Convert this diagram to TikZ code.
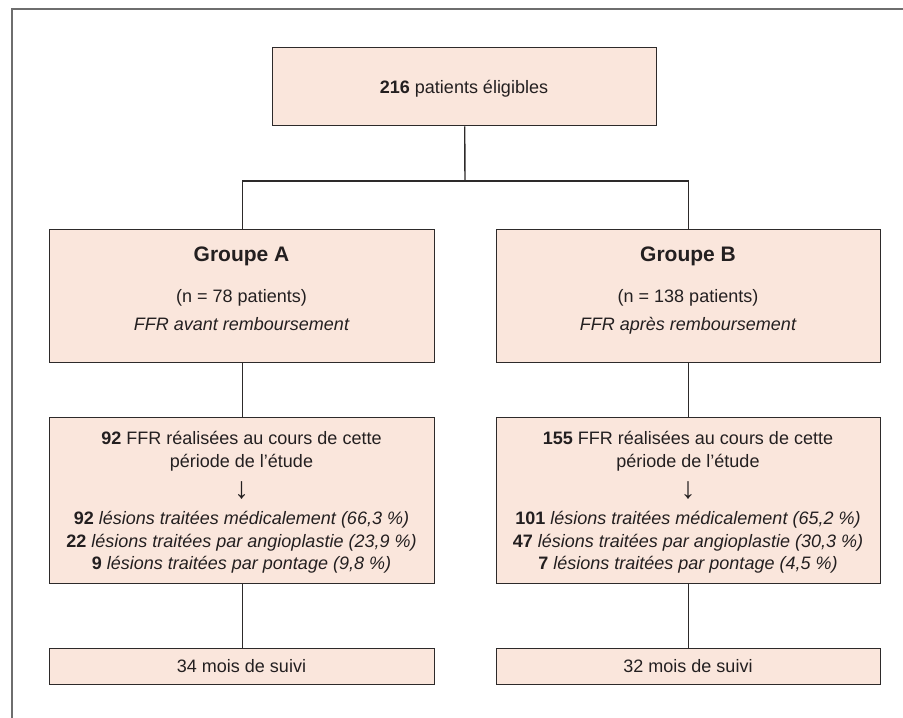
\documentclass[tikz,border=0pt]{standalone}
\usepackage{fontspec}
\setmainfont{Liberation Sans}
\definecolor{boxfill}{RGB}{250,230,220}
\definecolor{edge}{RGB}{45,42,42}
\definecolor{framecol}{RGB}{110,110,110}
\definecolor{ink}{RGB}{35,31,32}
\begin{document}
\begin{tikzpicture}[x=1pt,y=-1pt,
  box/.style={draw=edge, line width=1.4pt, fill=boxfill, inner sep=0pt, anchor=north west},
  txt/.style={inner sep=0pt, anchor=base, text=ink, font=\fontsize{18}{22}\selectfont},
  ttl/.style={inner sep=0pt, anchor=base, text=ink, font=\fontsize{21}{25}\selectfont\bfseries},
  arr/.style={inner sep=0pt, anchor=center, text=ink, font=\fontsize{30}{30}\selectfont},
  link/.style={draw=edge, line width=1.4pt},
  framel/.style={draw=framecol, line width=2pt}]
\useasboundingbox (0,0) rectangle (903,718);
% frame
\coordinate (fTL) at (12,9);
\coordinate (fTR) at (903,9);
\coordinate (fBL) at (12,718);
\draw[framel] (fTR) -- (fTL) -- (fBL);

% boxes
\node[box, minimum width=384pt, minimum height=78pt] (top) at (272,47) {};
\node[box, minimum width=385pt, minimum height=133pt] (grpA) at (49,229) {};
\node[box, minimum width=384pt, minimum height=133pt] (grpB) at (496,229) {};
\node[box, minimum width=385pt, minimum height=166pt] (ffrA) at (49,417) {};
\node[box, minimum width=384pt, minimum height=166pt] (ffrB) at (496,417) {};
\node[box, minimum width=385pt, minimum height=36pt] (suiA) at (49,648) {};
\node[box, minimum width=384pt, minimum height=36pt] (suiB) at (496,648) {};

% texts
\node[txt] (tTop) at (464,93) {\textbf{216} patients éligibles};

\node[ttl] (tA1) at (241.5,261) {Groupe A};
\node[txt] (tA2) at (241.5,302) {(n = 78 patients)};
\node[txt] (tA3) at (241.5,330) {\itshape FFR avant remboursement};

\node[ttl] (tB1) at (688,261) {Groupe B};
\node[txt] (tB2) at (688,302) {(n = 138 patients)};
\node[txt] (tB3) at (688,330) {\itshape FFR après remboursement};

\node[txt] (fA1) at (241.5,444) {\textbf{92} FFR réalisées au cours de cette};
\node[txt] (fA2) at (241.5,467) {période de l’étude};
\node[arr] (fA3) at (241.5,491) {↓};
\node[txt] (fA4) at (241.5,524) {\textbf{92} \textit{lésions traitées médicalement (66,3 \%)}};
\node[txt] (fA5) at (241.5,547) {\textbf{22} \textit{lésions traitées par angioplastie (23,9 \%)}};
\node[txt] (fA6) at (241.5,569) {\textbf{9} \textit{lésions traitées par pontage (9,8 \%)}};

\node[txt] (fB1) at (688,444) {\textbf{155} FFR réalisées au cours de cette};
\node[txt] (fB2) at (688,467) {période de l’étude};
\node[arr] (fB3) at (688,491) {↓};
\node[txt] (fB4) at (688,524) {\textbf{101} \textit{lésions traitées médicalement (65,2 \%)}};
\node[txt] (fB5) at (688,547) {\textbf{47} \textit{lésions traitées par angioplastie (30,3 \%)}};
\node[txt] (fB6) at (688,569) {\textbf{7} \textit{lésions traitées par pontage (4,5 \%)}};

\node[txt] (sA) at (241.5,672) {34 mois de suivi};
\node[txt] (sB) at (688,672) {32 mois de suivi};

% connectors
\coordinate (j) at (465,181);
\draw[link] (top.south) -- (j);
\draw[link] (grpA.north) |- (j) -| (grpB.north);
\draw[link] (grpA.south) -- (ffrA.north);
\draw[link] (grpB.south) -- (ffrB.north);
\draw[link] (ffrA.south) -- (suiA.north);
\draw[link] (ffrB.south) -- (suiB.north);
\end{tikzpicture}
\end{document}
